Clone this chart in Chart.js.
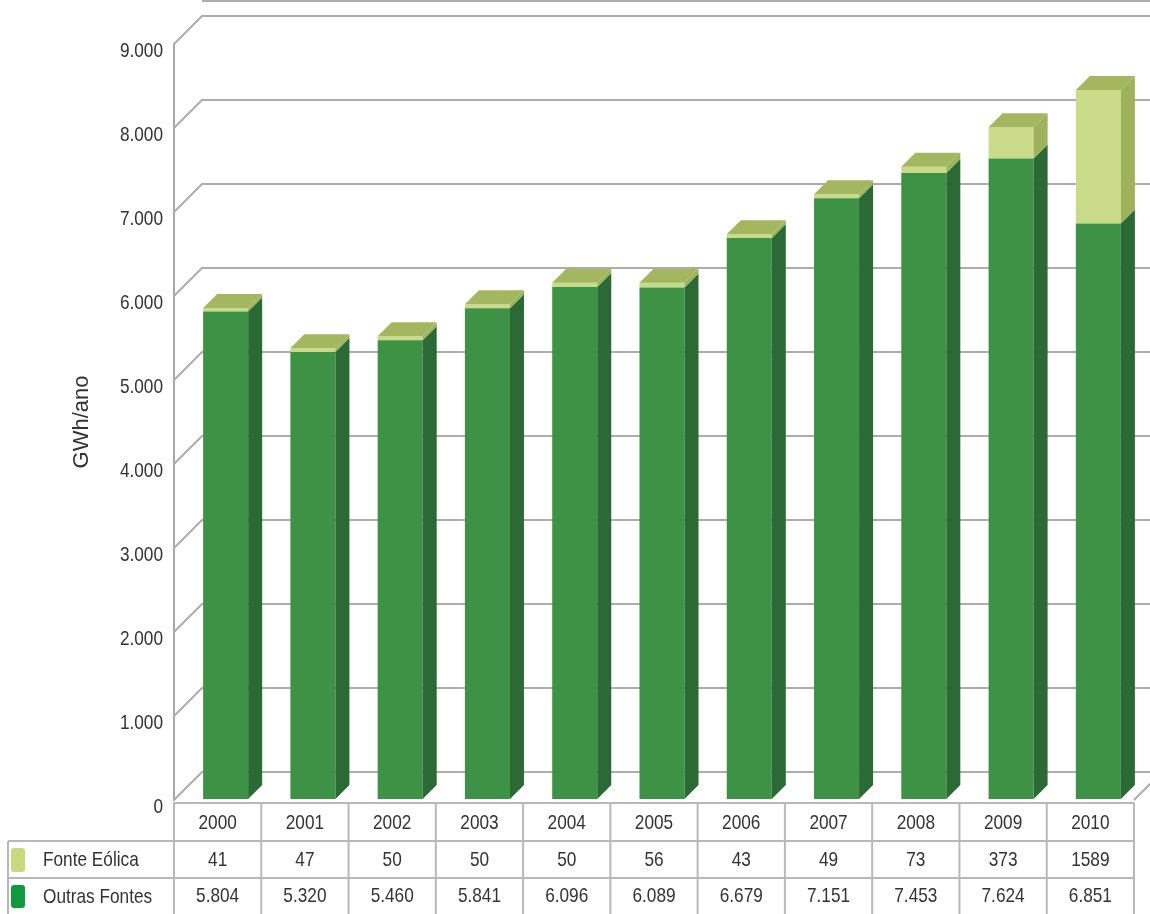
<!DOCTYPE html>
<html lang="pt">
<head>
<meta charset="utf-8">
<title>Geração de energia elétrica</title>
<script src="https://cdn.jsdelivr.net/npm/chart.js@4.4.1/dist/chart.umd.min.js"></script>
<style>
  html, body { margin: 0; padding: 0; background: #fff; }
  #grafico { display: block; }
</style>
</head>
<body>
<canvas id="grafico" width="1150" height="914"></canvas>
<script>
// Dados (GWh/ano)
const anos = ['2000', '2001', '2002', '2003', '2004', '2005', '2006', '2007', '2008', '2009', '2010'];
const fonteEolica = [41, 47, 50, 50, 50, 56, 43, 49, 73, 373, 1589];
const outrasFontes = [5804, 5320, 5460, 5841, 6096, 6089, 6679, 7151, 7453, 7624, 6851];
const rotuloEolica = 'Fonte Eólica';
const rotuloOutras = 'Outras Fontes';
const eixoMax = 9000;
const eixoPasso = 1000;

const fonteTexto = '"Liberation Sans", Arial, sans-serif';
const corTexto = '#333';
const estreito = 0.82; // compressão horizontal do texto da tabela e do eixo

// efeito 3D: profundidade da parede e das barras
const parede = { dx: 28, dy: -28 };
const profBarra = 14;
const desloc = { x: 8, y: -1 };

function milhar(v) {
    return String(v).replace(/\B(?=(\d{3})+(?!\d))/g, '.');
}

function poligono(ctx, pts, cor) {
    ctx.fillStyle = cor;
    ctx.beginPath();
    ctx.moveTo(pts[0][0], pts[0][1]);
    for (let i = 1; i < pts.length; i++) ctx.lineTo(pts[i][0], pts[i][1]);
    ctx.closePath();
    ctx.fill();
}

function textoEstreito(ctx, txt, x, y, align) {
    ctx.save();
    ctx.translate(x, y);
    ctx.scale(estreito, 1);
    ctx.textAlign = align;
    ctx.fillText(txt, 0, 0);
    ctx.restore();
}

// Paredes, grade, faces laterais das barras, rótulos do eixo e tabela
const efeito3d = {
    id: 'efeito3d',
    beforeDatasetsDraw(chart) {
        const { ctx, chartArea: a, scales: { y } } = chart;
        ctx.save();
        ctx.strokeStyle = '#adadad';
        ctx.lineWidth = 2;
        ctx.beginPath();
        ctx.moveTo(a.left + parede.dx, 1);
        ctx.lineTo(chart.width, 1);
        ctx.stroke();
        y.ticks.forEach(t => {
            const py = y.getPixelForValue(t.value);
            ctx.beginPath();
            ctx.moveTo(a.left, py);
            ctx.lineTo(a.left + parede.dx, py + parede.dy);
            ctx.lineTo(chart.width, py + parede.dy);
            ctx.stroke();
        });
        // borda direita do piso
        const py0 = y.getPixelForValue(0);
        ctx.beginPath();
        ctx.moveTo(a.right, py0);
        ctx.lineTo(a.right + parede.dx, py0 + parede.dy);
        ctx.stroke();
        ctx.restore();

        // barras ficam um pouco atrás do plano frontal
        ctx.save();
        ctx.translate(desloc.x, desloc.y);
    },
    afterDatasetsDraw(chart) {
        const { ctx } = chart;
        const ultimo = chart.data.datasets.length - 1;
        chart.data.datasets.forEach((ds, di) => {
            const meta = chart.getDatasetMeta(di);
            meta.data.forEach(bar => {
                const { x, y, base, width } = bar.getProps(['x', 'y', 'base', 'width'], true);
                const x0 = x - width / 2;
                const x1 = x + width / 2;
                poligono(ctx, [[x1, y], [x1 + profBarra, y - profBarra], [x1 + profBarra, base - profBarra], [x1, base]], ds.corLateral);
                if (di === ultimo) {
                    poligono(ctx, [[x0, y], [x0 + profBarra, y - profBarra], [x1 + profBarra, y - profBarra], [x1, y]], ds.corTopo);
                }
            });
        });
        ctx.restore();
    },
    afterDraw(chart) {
        const { ctx, chartArea: a, scales: { x, y } } = chart;
        ctx.save();
        ctx.fillStyle = corTexto;
        ctx.textBaseline = 'middle';

        // rótulos do eixo Y, logo abaixo da aresta de cada linha da grade
        ctx.font = '21px ' + fonteTexto;
        y.ticks.forEach(t => {
            textoEstreito(ctx, milhar(t.value), a.left - 11, y.getPixelForValue(t.value) + 7, 'right');
        });

        // tabela de dados abaixo do gráfico
        const colW = (a.right - a.left) / anos.length;
        const linhas = [803, 841, 878, 916];
        const esq = 8;

        ctx.strokeStyle = '#b8b8b8';
        ctx.lineWidth = 2;
        ctx.beginPath();
        ctx.moveTo(a.left - 1, linhas[0]);
        ctx.lineTo(a.right, linhas[0]);
        ctx.moveTo(esq, linhas[1]);
        ctx.lineTo(a.right, linhas[1]);
        ctx.moveTo(esq, linhas[2]);
        ctx.lineTo(a.right, linhas[2]);
        for (let i = 0; i <= anos.length; i++) {
            const cx = a.left + i * colW;
            ctx.moveTo(cx, linhas[0]);
            ctx.lineTo(cx, linhas[3]);
        }
        ctx.moveTo(esq, linhas[1]);
        ctx.lineTo(esq, linhas[3]);
        ctx.stroke();

        anos.forEach((ano, i) => {
            const cx = x.getPixelForValue(i);
            textoEstreito(ctx, ano, cx, (linhas[0] + linhas[1]) / 2 + 1, 'center');
            textoEstreito(ctx, String(fonteEolica[i]), cx, (linhas[1] + linhas[2]) / 2 + 1, 'center');
            textoEstreito(ctx, milhar(outrasFontes[i]), cx, (linhas[2] + linhas[3]) / 2 - 1, 'center');
        });

        // legenda dentro da tabela
        const series = [
            { nome: rotuloEolica, cor: '#c6d97c', y0: linhas[1], y1: linhas[2] },
            { nome: rotuloOutras, cor: '#109a3c', y0: linhas[2], y1: linhas[3] - 2 }
        ];
        series.forEach(s => {
            ctx.fillStyle = s.cor;
            ctx.beginPath();
            ctx.roundRect(11, s.y0 + 7, 14, s.y1 - s.y0 - 13, 3);
            ctx.fill();
            ctx.fillStyle = corTexto;
            textoEstreito(ctx, s.nome, 43, (s.y0 + s.y1) / 2 + 1, 'left');
        });
        ctx.restore();
    }
};

const ctxGrafico = document.getElementById('grafico').getContext('2d');

const grafico = new Chart(ctxGrafico, {
    type: 'bar',
    data: {
        labels: anos,
        datasets: [{
            label: rotuloOutras,
            data: outrasFontes,
            backgroundColor: '#3e9245',
            corLateral: '#2c6a35',
            corTopo: '#a0b45e',
            borderWidth: 0
        }, {
            label: rotuloEolica,
            data: fonteEolica,
            backgroundColor: '#c9db88',
            corLateral: '#9db25a',
            corTopo: '#a3b660',
            borderWidth: 0
        }]
    },
    options: {
        responsive: false,
        animation: false,
        layout: {
            padding: { left: 0, right: 16, top: 44, bottom: 114 }
        },
        datasets: {
            bar: { categoryPercentage: 1, barPercentage: 0.516 }
        },
        scales: {
            x: {
                stacked: true,
                display: false
            },
            y: {
                stacked: true,
                min: 0,
                max: eixoMax,
                afterFit(escala) { escala.width = 174; },
                grid: { display: false, drawTicks: false },
                border: { display: true, color: '#a8a8a8', width: 2 },
                ticks: { display: false, stepSize: eixoPasso },
                title: {
                    display: true,
                    text: 'GWh/ano',
                    color: corTexto,
                    font: { family: fonteTexto, size: 22 },
                    padding: { top: 69, bottom: 0 }
                }
            }
        },
        plugins: {
            legend: { display: false },
            tooltip: { enabled: false }
        }
    },
    plugins: [efeito3d]
});
</script>
</body>
</html>
